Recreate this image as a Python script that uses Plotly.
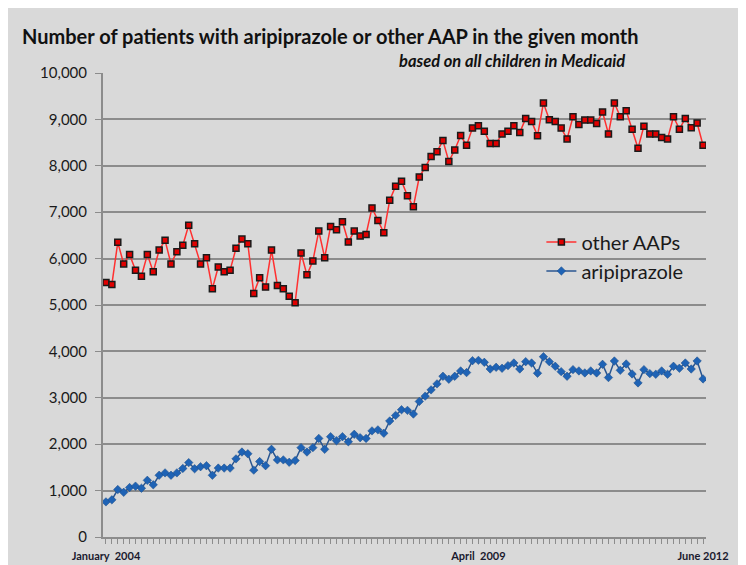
import plotly.graph_objects as go
import pandas as pd

# Monthly categories: January 2004 .. June 2012
months = [d.strftime("%b %Y") for d in pd.date_range("2004-01-01", "2012-06-01", freq="MS")]

other_aaps = [
    5486, 5443, 6350, 5886, 6086, 5750, 5621, 6086, 5714, 6186,
    6393, 5886, 6150, 6286, 6721, 6321, 5886, 6021, 5350, 5821,
    5714, 5750, 6221, 6421, 6321, 5250, 5586, 5386, 6186, 5421,
    5350, 5186, 5050, 6121, 5650, 5950, 6593, 6021, 6693, 6621,
    6793, 6357, 6593, 6486, 6521, 7093, 6821, 6557, 7257, 7558,
    7667, 7355, 7116, 7761, 7964, 8203, 8304, 8543, 8094, 8341,
    8652, 8442, 8812, 8862, 8746, 8478, 8478, 8688, 8746, 8862,
    8717, 9022, 8957, 8645, 9355, 8993, 8957, 8812, 8580, 9058,
    8891, 8986, 8986, 8913, 9159, 8688, 9355, 9058, 9188, 8790,
    8377, 8855, 8688, 8688, 8609, 8580, 9058, 8790, 9022, 8819,
    8920, 8442,
]

aripiprazole = [
    757, 801, 1022, 963, 1066, 1096, 1051, 1221, 1125, 1331,
    1382, 1331, 1382, 1478, 1603, 1471, 1515, 1537, 1331, 1485,
    1485, 1485, 1684, 1831, 1794, 1441, 1625, 1537, 1890, 1662,
    1662, 1610, 1647, 1926, 1831, 1926, 2125, 1890, 2162, 2074,
    2162, 2051, 2213, 2140, 2125, 2287, 2309, 2235, 2500, 2621,
    2743, 2729, 2650, 2921, 3036, 3171, 3300, 3464, 3400, 3464,
    3579, 3543, 3800, 3807, 3764, 3621, 3657, 3636, 3693, 3750,
    3621, 3779, 3750, 3529, 3886, 3779, 3679, 3564, 3464, 3607,
    3579, 3536, 3579, 3536, 3721, 3436, 3793, 3593, 3729, 3514,
    3321, 3607, 3521, 3507, 3579, 3507, 3679, 3636, 3750, 3621,
    3793, 3407,
]

label_months = {"Jan 2004": "January\u00a0\u00a02004", "Apr 2009": "April\u00a0\u00a02009", "Jun 2012": "June 2012"}
tick_text = [label_months.get(m, "") for m in months]

FONT = "Lato, 'Open Sans', sans-serif"
GREY = "#d9d9d9"
GRID = "#8c8c8c"

fig = go.Figure()
fig.add_trace(go.Scatter(
    x=months, y=other_aaps, name="other AAPs", mode="lines+markers", legendgroup="a",
    line=dict(color="#ff3030", width=1.5),
    marker=dict(symbol="square", size=6, color="#e00000", line=dict(color="#1a1a1a", width=1.5)),
))
fig.add_trace(go.Scatter(
    x=months, y=aripiprazole, name="aripiprazole", mode="lines+markers", legendgroup="b",
    line=dict(color="#2a5690", width=1.5),
    marker=dict(symbol="diamond", size=6.5, color="#1f63b5", line=dict(color="#1a4a85", width=0.5)),
))

fig.update_layout(
    width=738, height=557,
    margin=dict(l=95, r=40, t=64.5, b=27.5),
    paper_bgcolor=GREY, plot_bgcolor=GREY,
    font=dict(family=FONT, color="#1a1a1a"),
    title=dict(text="<b>Number of patients with aripiprazole or other AAP in the given month</b>",
               x=14/738, xanchor="left", y=1-29/557, yanchor="middle",
               font=dict(size=20, family=FONT, color="#111111")),
    showlegend=True,
    legend=dict(x=0.727, y=0.678, xanchor="left", yanchor="top", bgcolor="rgba(0,0,0,0)",
                font=dict(size=20, family=FONT, color="#1a1a1a"), tracegroupgap=0),
    annotations=[dict(text="<b><i>based on all children in Medicaid</i></b>", xref="paper", yref="paper",
                      x=0.8695, y=1.0269, xanchor="right", yanchor="middle", showarrow=False,
                      font=dict(size=16.5, family=FONT, color="#111111"))],
)
fig.update_xaxes(
    type="category", tickmode="array", tickvals=months, ticktext=tick_text,
    ticks="outside", ticklen=5, tickcolor=GRID, tickwidth=1, ticklabelstandoff=3,
    showgrid=False, showline=True, linecolor=GRID, linewidth=2, automargin=False,
    tickangle=0, tickfont=dict(size=11, family=FONT, color="#1a1a2e", weight="bold"),
    range=[-0.5, len(months) - 0.5],
)
fig.update_yaxes(
    range=[0, 10000], dtick=1000, tickformat=",", showgrid=True, gridcolor=GRID, gridwidth=1.5,
    showline=True, linecolor=GRID, linewidth=2, ticks="outside", ticklen=6, tickcolor=GRID,
    ticklabelstandoff=5, automargin=False,
    zeroline=False, tickfont=dict(size=15, family=FONT, color="#1a1a1a"),
)

fig.write_html("out.html")
